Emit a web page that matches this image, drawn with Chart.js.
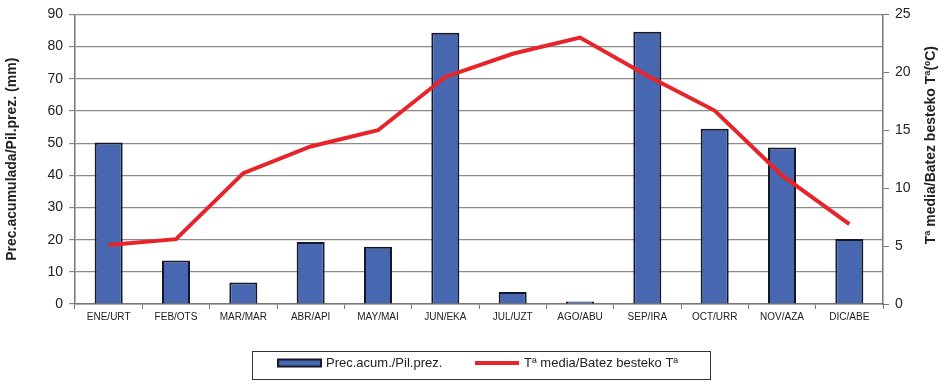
<!DOCTYPE html>
<html>
<head>
<meta charset="utf-8">
<script src="https://cdn.jsdelivr.net/npm/chart.js@4"></script>
<style>
  html, body { margin: 0; padding: 0; background: #fff; }
  #wrap { width: 940px; height: 383px; position: relative; }
</style>
</head>
<body>
<div id="wrap"><canvas id="chart" width="940" height="383"></canvas></div>
<script>
// monthly data
const months = ['ENE/URT', 'FEB/OTS', 'MAR/MAR', 'ABR/API', 'MAY/MAI', 'JUN/EKA',
                'JUL/UZT', 'AGO/ABU', 'SEP/IRA', 'OCT/URR', 'NOV/AZA', 'DIC/ABE'];
const precip = [50.2, 13.5, 6.7, 19.3, 17.8, 84.3, 3.7, 0.8, 84.6, 54.5, 48.6, 20.2];
const tempMean = [5.1, 5.6, 11.3, 13.6, 15.0, 19.6, 21.6, 23.0, 19.7, 16.7, 11.1, 6.9];

const precLabel = 'Prec.acum./Pil.prez.';
const tempLabel = 'Tª media/Batez besteko Tª';
const leftTitle = 'Prec.acumulada/Pil.prez. (mm)';
const rightTitle = 'Tª media/Batez besteko Tª(ºC)';

const FONT = '"Liberation Sans", Arial, sans-serif';
const BAR_COLOR = '#4767b1';
const BAR_EDGE = '#15182a';
const LINE_COLOR = '#e8242b';

// right axis title reads bottom-to-top, plus the boxed legend under the plot
const extras = {
  id: 'extras',
  afterDraw(chart) {
    const ctx = chart.ctx;
    const area = chart.chartArea;
    ctx.save();

    // right title
    ctx.translate(931, (area.top + area.bottom) / 2 - 14);
    ctx.rotate(-Math.PI / 2);
    ctx.font = 'bold 14px ' + FONT;
    ctx.fillStyle = '#222';
    ctx.textAlign = 'center';
    ctx.textBaseline = 'middle';
    ctx.fillText(rightTitle, 0, 0);
    ctx.restore();

    // legend
    const bars = chart.data.datasets.find(d => d.type === 'bar');
    const line = chart.data.datasets.find(d => d.type === 'line');
    ctx.save();
    ctx.strokeStyle = '#333';
    ctx.lineWidth = 1;
    ctx.strokeRect(252.5, 351.5, 458, 28);
    const cy = 363;
    ctx.font = '13px ' + FONT;
    ctx.textBaseline = 'middle';
    ctx.textAlign = 'left';

    ctx.fillStyle = bars.backgroundColor;
    ctx.fillRect(278, cy - 3.5, 43, 7);
    ctx.strokeStyle = bars.borderColor;
    ctx.lineWidth = 2;
    ctx.strokeRect(278, cy - 3.5, 43, 7);
    ctx.fillStyle = '#222';
    ctx.fillText(bars.label, 326, cy);

    ctx.strokeStyle = line.borderColor;
    ctx.lineWidth = 4;
    ctx.beginPath();
    ctx.moveTo(475, cy);
    ctx.lineTo(519, cy);
    ctx.stroke();
    ctx.fillText(line.label, 524, cy);
    ctx.restore();
  }
};

new Chart(document.getElementById('chart'), {
  data: {
    labels: months,
    datasets: [
      {
        type: 'bar',
        label: precLabel,
        data: precip,
        yAxisID: 'y',
        backgroundColor: BAR_COLOR,
        borderColor: BAR_EDGE,
        borderWidth: 2,
        categoryPercentage: 0.8,
        barPercentage: 0.52,
        order: 1
      },
      {
        type: 'line',
        label: tempLabel,
        data: tempMean,
        yAxisID: 'y1',
        borderColor: LINE_COLOR,
        backgroundColor: LINE_COLOR,
        borderWidth: 4,
        pointRadius: 0,
        tension: 0,
        order: 0
      }
    ]
  },
  options: {
    responsive: false,
    animation: false,
    layout: { padding: { top: 13, bottom: 50, left: 0, right: 0 } },
    plugins: {
      legend: { display: false },
      tooltip: { enabled: false }
    },
    scales: {
      x: {
        offset: true,
        grid: {
          offset: true,
          drawOnChartArea: false,
          drawTicks: true,
          tickLength: 5,
          color: '#777'
        },
        border: { color: '#777', width: 1.5 },
        ticks: {
          font: { family: FONT, size: 10 },
          color: '#222',
          maxRotation: 0,
          autoSkip: false,
          padding: 2
        },
        afterFit(scale) { scale.height = 29; }
      },
      y: {
        position: 'left',
        min: 0,
        max: 90,
        ticks: {
          stepSize: 10,
          font: { family: FONT, size: 14 },
          color: '#222',
          padding: 6
        },
        grid: { color: '#8a8a8a', lineWidth: 1.2, tickLength: 6 },
        border: { color: '#777', width: 1.5 },
        title: {
          display: true,
          text: leftTitle,
          font: { family: FONT, size: 14, weight: 'bold' },
          color: '#222',
          padding: { top: 4, bottom: 0 }
        },
        afterFit(scale) { scale.width = 75; }
      },
      y1: {
        position: 'right',
        min: 0,
        max: 25,
        ticks: {
          stepSize: 5,
          font: { family: FONT, size: 14 },
          color: '#222',
          padding: 6
        },
        grid: { drawOnChartArea: false, color: '#777', tickLength: 6 },
        border: { color: '#777', width: 1.5 },
        afterFit(scale) { scale.width = 57; }
      }
    }
  },
  plugins: [extras]
});
</script>
</body>
</html>
